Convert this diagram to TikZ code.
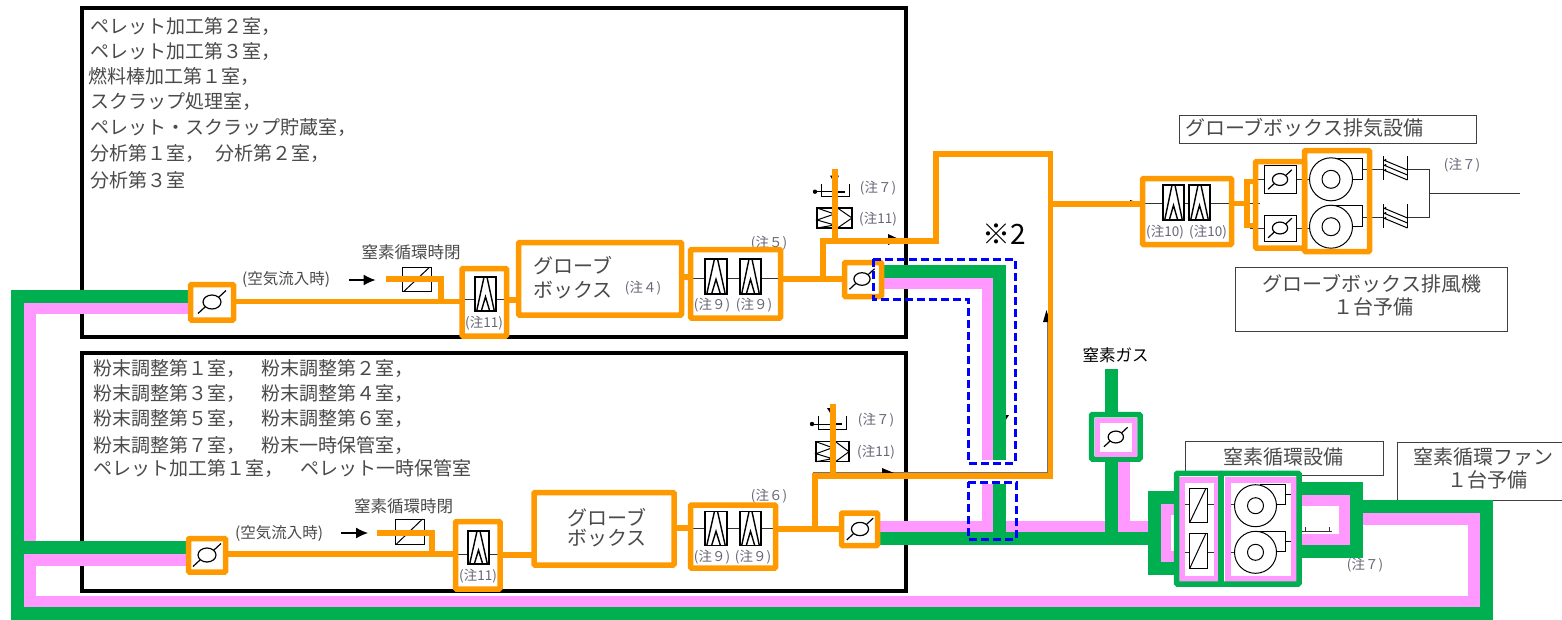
\documentclass[tikz,border=0pt]{standalone}
\usepackage{fontspec}
\usetikzlibrary{arrows.meta}
\setmainfont{Noto Sans CJK JP}
\definecolor{oc}{HTML}{FF9900}
\definecolor{gc}{HTML}{00B050}
\definecolor{pc}{HTML}{FF99FF}
\definecolor{bc}{HTML}{0000FF}
\definecolor{txc}{HTML}{4A4A4A}
\definecolor{noc}{HTML}{666677}
\newcommand{\fsz}[1]{\fontsize{#1}{#1}\selectfont}
\newcommand{\bx}[6][]{\node[#1,minimum width={(#5-#3)*1pt},minimum height={(#6-#4)*1pt}] (#2) at ({(#3+#5)/2},{(#4+#6)/2}) {};}
\tikzset{
  every node/.style={inner sep=0pt,outer sep=0pt},
  frame/.style={draw=black,line width=4pt,rectangle},
  lab/.style={draw=black!75,line width=1pt,rectangle,fill=white},
  oline/.style={draw=oc,line width=5.7pt},
  gline/.style={draw=gc,line width=13pt},
  pline/.style={draw=pc,line width=11.5pt},
  obox/.style={draw=oc,line width=5.5pt,rectangle,rounded corners=1pt},
  gbox/.style={draw=gc,line width=5.5pt,rectangle,rounded corners=1pt},
  pbox/.style={draw=pc,line width=5.5pt,rectangle},
  thin line/.style={draw=black!80,line width=0.9pt},
  sym/.style={draw=black,line width=1pt},
  fsym/.style={draw=black,line width=1.4pt},
  bdash/.style={draw=bc,line width=3pt,dash pattern=on 8pt off 4pt},
  big/.style={font=\fsz{19},text=txc,anchor=west},
  lbl/.style={font=\fsz{20},text=txc},
  mid/.style={font=\fsz{16.5},text=txc},
  note/.style={font=\fsz{13.5},text=noc},
}
\newcommand{\filt}[4]{\begin{scope}[shift={(#1,#2)}]
 \draw[fsym,fill=white] ({-#3/2},{-#4/2}) rectangle ({#3/2},{#4/2});
 \draw[fsym] ({-#3*0.42},{#4/2}) -- ({-#3*0.07},{-#4/2}) ({#3*0.42},{#4/2}) -- ({#3*0.07},{-#4/2});
 \draw[fsym] ({-#3*0.2},{#4/2}) -- (0,{#4*0.08}) -- ({#3*0.2},{#4/2});
 \end{scope}}
\newcommand{\valv}[3][1]{\begin{scope}[shift={(#2,#3)},scale=#1]
 \draw[sym,line width=1.2pt] (0,0) ellipse (9 and 7);
 \draw[sym,line width=1.2pt] (-14,11.5) -- (-7,5) (7,-5) -- (14,-11.5);
 \end{scope}}
\newcommand{\damp}[4]{\begin{scope}[shift={(#1,#2)}]
 \draw[sym,fill=white] ({-#3/2},{-#4/2}) rectangle ({#3/2},{#4/2});
 \draw[sym] ({-#3*0.45},{#4/2}) -- ({#3*0.45},{-#4/2});
 \end{scope}}
\newcommand{\fanA}[2]{\begin{scope}[shift={(#1,#2)}]
 \draw[sym] (0,0) circle (21.5) (0,0) circle (9);
 \draw[sym] (4,-21) -- (31,-21) -- (31,0) -- (21,0);
 \end{scope}}
\newcommand{\fanB}[2]{\begin{scope}[shift={(#1,#2)}]
 \draw[sym] (0,0) circle (21) (0,0) circle (8);
 \draw[sym] (4,-21) -- (30,-21) -- (30,-1) -- (21,-1) (30,-11) -- (35,-11);
 \end{scope}}
\newcommand{\sil}[2]{\begin{scope}[shift={(#1,#2)}]
 \draw[sym] (0,-12) -- (0,12) (24,-12) -- (24,12);
 \draw[sym] (0,-8) -- (24,2) (0,-3) -- (24,7) (0,2) -- (24,12);
 \fill (2,-8) circle (1.2) (2,-3) circle (1.2) (2,2) circle (1.2);
 \end{scope}}
\newcommand{\ventA}[6]{%
 \fill ({#1+15},{#2-16}) -- ({#1+24},{#2-16}) -- ({#1+20},{#2-8}) -- cycle;
 \fill (#1,#2) circle (2.2);
 \draw[sym] (#1,#2) -- ({#1+18},#2);
 \draw[sym,line width=2pt] ({#1+18},#2) -- ({#1+30},#2);
 \draw[sym] ({#1+6},{#2-8}) -- ({#1+6},{#2+5}) -- ({#1+34},{#2+5}) -- ({#1+34},{#2-8});
 \draw[fsym,fill=white] (#3,#4) rectangle (#5,#6);
 \draw[sym] (#3,#4) -- ({(#3+#5)/2},{#4+(#6-#4)*0.3}) -- (#3,{#4+(#6-#4)*0.6}) -- ({(#3+#5)/2},{#4+(#6-#4)*0.85}) -- (#3,#6);
 \draw[sym] ({(#3+#5)/2+3},#4) -- (#5,{(#4+#6)/2}) -- ({(#3+#5)/2+3},#6);}
\begin{document}
\begin{tikzpicture}[x=1pt,y=-1pt]
\useasboundingbox[fill=white] (0,0) rectangle (1562,619);
% room frames
\bx[frame]{roomA}{81.5}{8}{905.5}{337}
\bx[frame]{roomB}{81.5}{353}{905.5}{590.5}
% label boxes
\bx[lab]{labGE}{1179}{115}{1476}{143}
\bx[lab]{labGF}{1235.5}{267}{1507}{331}
\bx[lab]{labNE}{1185}{441}{1383}{475}
\begin{scope}
\clip (0,0) rectangle (1562,619);
\bx[lab]{labNF}{1397}{442}{1570}{500}
\end{scope}
% room texts
\node[big] (a1) at (90,26) {ペレット加工第２室，};
\node[big] (a2) at (90,51) {ペレット加工第３室，};
\node[big] (a3) at (88,76) {燃料棒加工第１室，};
\node[big] (a4) at (90,102) {スクラップ処理室，};
\node[big] (a5) at (90,128) {ペレット・スクラップ貯蔵室，};
\node[big] (a6) at (90,153) {分析第１室，\hspace{12pt}分析第２室，};
\node[big] (a7) at (90,180) {分析第３室};
\node[big] (b1) at (93,368) {粉末調整第１室，\hspace{16pt}粉末調整第２室，};
\node[big] (b2) at (93,393) {粉末調整第３室，\hspace{16pt}粉末調整第４室，};
\node[big] (b3) at (93,418) {粉末調整第５室，\hspace{16pt}粉末調整第６室，};
\node[big] (b4) at (93,445) {粉末調整第７室，\hspace{16pt}粉末一時保管室，};
\node[big] (b5) at (93,468) {ペレット加工第１室，\hspace{18pt}ペレット一時保管室};
% small labels
\node[mid] (t1) at (411,252) {窒素循環時閉};
\node[mid] (t2) at (403.5,506) {窒素循環時閉};
\node[font=\fsz{15.5},text=txc] (t3) at (286,279) {(空気流入時)};
\node[font=\fsz{15.5},text=txc] (t4) at (279,533) {(空気流入時)};
\node[note] (n1) at (484,323) {(注11)};
\node[note] (n2) at (478,576) {(注11)};
\node[note] (n3) at (712,305) {(注９)};
\node[note] (n4) at (754,305) {(注９)};
\node[note] (n5) at (769,243) {(注５)};
\node[note] (n6) at (712,557) {(注９)};
\node[note] (n7) at (753,557) {(注９)};
\node[note] (n8) at (769,496) {(注６)};
\node[note] (n9) at (878,188) {(注７)};
\node[note] (n10) at (878,219) {(注11)};
\node[note] (n11) at (876,420) {(注７)};
\node[note] (n12) at (876,452) {(注11)};
\node[note] (n13) at (1165,232) {(注10)};
\node[note] (n14) at (1208,232) {(注10)};
\node[note] (n15) at (1462,165) {(注７)};
\node[note] (n16) at (1365,565) {(注７)};
\node[note] (n17) at (643,288) {(注４)};
% glovebox text
\node[lbl] (g1) at (573,266) {グローブ};
\node[lbl] (g2) at (573,290) {ボックス};
\node[lbl] (g3) at (607,518) {グローブ};
\node[lbl] (g4) at (607,538) {ボックス};
% equipment labels
\node[lbl,anchor=west] (l1) at (1185,128) {グローブボックス排気設備};
\node[lbl] (l2) at (1372,284) {グローブボックス排風機};
\node[lbl] (l3) at (1373,307) {１台予備};
\node[lbl] (l4) at (1283,457) {窒素循環設備};
\node[lbl] (l5) at (1483,457) {窒素循環ファン};
\node[lbl] (l6) at (1487,480) {１台予備};
\node[font=\fsz{16.5},text=black] (l7) at (1115.5,355) {窒素ガス};
\node[font=\fsz{28},text=black] (l8) at (1004,234) {※2};
% thin process lines
\draw[thin line] (459,299.5) -- (509,299.5);
\draw[thin line] (688,278) -- (783,278);
\draw[thin line] (453,554) -- (503,554);
\draw[thin line] (688,528) -- (778,528);
\draw[thin line] (1140,203) -- (1260,203);
\draw[thin line] (1250,179.5) -- (1310,179.5) (1250,228) -- (1310,228);
\draw[thin line] (1362,169) -- (1383,169) (1407,169) -- (1429,169) -- (1429,217) -- (1407,217) (1362,217) -- (1383,217) (1429,193.3) -- (1520,193.3);
\draw[thin line] (1302,531) -- (1332,531) (1305,527) -- (1305,531) (1329,527) -- (1329,531);
\draw[draw=black!55,line width=1pt] (813,472.7) -- (1047,472.7) -- (1047,318);
% arrows
\draw[sym,-{Latex[length=12pt,width=11pt]},line width=1.2pt] (349,280) -- (375.5,280);
\draw[sym,-{Latex[length=12pt,width=11pt]},line width=1.2pt] (341,533) -- (368,533);
\fill (888,234) -- (900,239.5) -- (888,245) -- cycle;
\fill (882,468) -- (894,473) -- (882,478) -- cycle;
\fill (1046.5,310) -- (1050,322) -- (1043,322) -- cycle;
\fill (1001,415) -- (1009,415) -- (1005,421) -- cycle;
\fill (1130,200) -- (1141,203.5) -- (1130,207) -- cycle;
% symbols
\damp{416.5}{279.5}{29}{24.5}
\damp{409.5}{531.5}{29}{25}
\filt{485.5}{294}{21}{34}
\filt{478.5}{547.5}{21}{33}
\filt{716}{276.5}{22}{35}
\filt{750.5}{276.5}{21}{35}
\filt{716}{528.5}{22}{34}
\filt{750.5}{528.5}{21}{34}
\filt{1173.5}{202.5}{21}{35}
\filt{1199.5}{202.5}{21}{35}
\ventA{815}{191.7}{817}{208}{852}{228}
\ventA{812}{424}{816}{441.7}{849}{461.7}
\draw[sym,fill=white] (1264,165.7) rectangle (1296,193);
\draw[sym,fill=white] (1264,215) rectangle (1296,241);
\valv[0.85]{1280}{179.5}
\valv[0.85]{1280}{228}
\fanA{1331}{179.3}
\fanA{1331}{226.7}
\sil{1383.5}{168}
\sil{1383.5}{216}
% route coordinates
\coordinate (gA) at (17.5,296);
\coordinate (gB) at (17.5,613);
\coordinate (gC) at (1486.5,613);
\coordinate (gD) at (1486.5,506.5);
\coordinate (gE) at (17.5,547.5);
\coordinate (pA) at (30,308.5);
\coordinate (pB) at (30,601.7);
\coordinate (pC) at (1474,601.7);
\coordinate (pD) at (1474,519);
\coordinate (pE) at (30,560);
% routing anchors of the equipment
\bx[minimum size=0pt]{vA}{190.5}{284.5}{233.5}{320}
\bx[minimum size=0pt]{vB}{188.5}{538.5}{225.5}{572}
\bx[minimum size=0pt]{fA}{462}{268.5}{506.5}{336}
\bx[minimum size=0pt]{fB}{455.5}{521.5}{500}{589}
\bx[minimum size=0pt]{gbA}{518.5}{242.5}{681.5}{315}
\bx[minimum size=0pt]{gbB}{534}{492.5}{674}{565}
\bx[minimum size=0pt]{fC}{690.5}{249.5}{780.5}{318}
\bx[minimum size=0pt]{fD}{690.5}{505}{775.5}{568}
\bx[minimum size=0pt]{vC}{844.5}{262.5}{881.5}{296.5}
\bx[minimum size=0pt]{vD}{841.5}{513}{877.5}{545.5}
\bx[minimum size=0pt]{fE}{1142.5}{178.5}{1231.5}{244.5}
\bx[minimum size=0pt]{vE}{1255.5}{161.5}{1302.5}{248}
\bx[minimum size=0pt]{vF}{1091.5}{414.5}{1140}{459}
\bx[minimum size=0pt]{dmp}{1176.5}{473.3}{1221}{584}
\bx[minimum size=0pt]{nfan}{1221}{473.3}{1299}{584}
% pink routes
\draw[pline] (vA.west |- pA) -- (pA) -- (30,560);
\draw[pline] (vB.west |- pE) -- (pE) -- (pB) -- (pC) -- (pD) -- (1356,519);
\draw[pline] (vC.east |- 0,283.5) -- (988,283.5) -- (988,460);
\draw[pline] (988,484) -- (988,526.5);
\draw[pline] (vD.east |- 0,526.5) -- (1124,526.5) -- (1124,459);
\draw[pline] (1124,526.5) -- (1148,526.5);
\draw[pc,line width=10.5pt] (dmp.west |- 0,509.5) -- (1165.5,509.5) -- (1165.5,556.5) -- (dmp.west |- 0,556.5);
\draw[pc,line width=11pt] (nfan.east |- 0,500.5) -- (1344.5,500.5) -- (1344.5,539) -- (nfan.east |- 0,539);
% green routes
\draw[gline] (vA.west |- gA) -- (gA) -- (gB) -- (gC) -- (gD) -- (1356,506.5);
\draw[gline] (vB.west |- gE) -- (gE);
\draw[gline] (vC.east |- 0,271) -- (999.5,271) -- (999.5,460);
\draw[gline] (999.5,484) -- (999.5,538.5);
\draw[gline] (vD.east |- 0,538.5) -- (1154.5,538.5);
\draw[gline] (1111.5,369) -- (1111.5,414.5);
\draw[gline] (1111.5,459) -- (1111.5,538.5);
\draw[gline] (dmp.west |- 0,497.5) -- (1154.5,497.5) -- (1154.5,568.5) -- (dmp.west |- 0,568.5);
\draw[gline] (nfan.east |- 0,488.5) -- (1356.5,488.5) -- (1356.5,551.5) -- (nfan.east |- 0,551.5);
% nitrogen equipment boxes
\bx[gbox]{vFo}{1091.5}{414.5}{1140}{459}
\bx[pbox,fill=white,line width=5pt]{vFi}{1097}{420}{1134.5}{454}
\valv[0.85]{1115.8}{437}
\bx[pbox,line width=6pt,fill=white]{dmpi}{1182}{479.7}{1216.5}{579}
\bx[pbox,line width=6pt,fill=white]{nfani}{1228.3}{479.7}{1293.7}{579}
\bx[gbox]{dmpo}{1176.5}{473.3}{1221}{584}
\bx[gbox]{nfano}{1221}{473.3}{1299}{584}
\draw[gc,line width=6.5pt] (dmpo.north east) -- (dmpo.south east);
\draw[thin line,line width=1.3pt] (1185,504.3) -- (1214,504.3) (1185,552.3) -- (1214,552.3);
\draw[thin line,line width=1.3pt] (1231,504.3) -- (1234,504.3) (1231,552.3) -- (1234,552.3);
\damp{1198}{505}{18}{34}
\damp{1198}{550.5}{18}{35}
\fanB{1255.5}{505.7}
\fanB{1255.5}{552.3}
% orange routes
\draw[oline] (vA.east |- 0,301.5) -- (fA.west |- 0,301.5);
\draw[oline] (386,279.3) -- (440.7,279.3) -- (440.7,301.5);
\draw[oline] (fA.east |- 0,300) -- (gbA.west |- 0,300);
\draw[oline] (gbA.east |- 0,277) -- (fC.west |- 0,277);
\draw[oline] (fC.east |- 0,278.7) -- (vC.west |- 0,278.7);
\draw[oline] (823,278.7) -- (823,241) -- (935.7,241) -- (935.7,153.8) -- (1050.5,153.8) -- (1050.5,479);
\draw[oline] (835,169) -- (835,241);
\draw[oline] (1050.5,204) -- (fE.west |- 0,204);
\draw[oline] (vB.east |- 0,554) -- (fB.west |- 0,554);
\draw[oline] (377,533) -- (431.7,533) -- (431.7,554);
\draw[oline] (fB.east |- 0,555) -- (gbB.west |- 0,555);
\draw[oline] (gbB.east |- 0,528) -- (fD.west |- 0,528);
\draw[oline] (fD.east |- 0,529) -- (vD.west |- 0,529);
\draw[oline] (815,529) -- (815,476) -- (1053.3,476);
\draw[oline] (833,404) -- (833,476);
\draw[oline] (fE.east |- 0,203.5) -- (1246.7,203.5);
\draw[oline] (vE.west |- 0,181.5) -- (1246.7,181.5) -- (1246.7,225.5) -- (vE.west |- 0,225.5);
% orange boxes
\bx[obox]{vAo}{190.5}{284.5}{233.5}{320}
\valv{212}{302}
\bx[obox]{vBo}{188.5}{538.5}{225.5}{572}
\valv{207}{555}
\bx[obox]{fAo}{462}{268.5}{506.5}{336}
\bx[obox]{fBo}{455.5}{521.5}{500}{589}
\bx[obox]{gbAo}{518.5}{242.5}{681.5}{315}
\bx[obox]{gbBo}{534}{492.5}{674}{565}
\bx[obox]{fCo}{690.5}{249.5}{780.5}{318}
\bx[obox]{fDo}{690.5}{505}{775.5}{568}
\bx[obox]{vCo}{844.5}{262.5}{881.5}{296.5}
\valv[0.9]{862}{279}
\bx[obox]{vDo}{841.5}{513}{877.5}{545.5}
\valv[0.95]{860}{529}
\bx[obox]{fEo}{1142.5}{178.5}{1231.5}{244.5}
\bx[obox]{vEo}{1255.5}{161.5}{1304.5}{248}
\bx[obox]{fano}{1304.5}{150.5}{1369.5}{251.5}
% blue dashed zones
\draw[bdash] (873,259) -- (1015,259) -- (1015,463) -- (968,463) -- (968,299) -- (873,299) -- cycle;
\draw[bdash] (968,482) -- (1016,482) -- (1016,539) -- (968,539) -- cycle;
\end{tikzpicture}
\end{document}
